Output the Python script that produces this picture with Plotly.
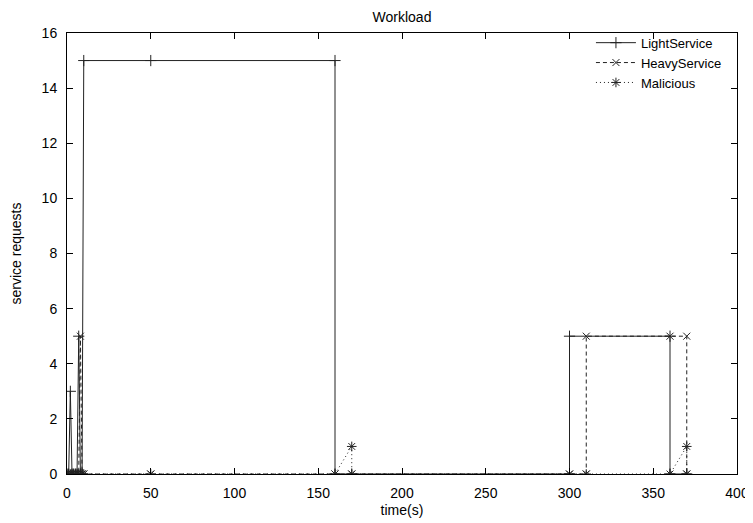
import plotly.graph_objects as go

# ---- data ----
light_t = [0, 1, 2, 3, 4, 5, 6, 7, 8, 9, 10, 50, 160, 160, 170, 300, 300, 360, 360, 370]
light_v = [0, 0, 3, 0, 0, 0, 0, 5, 0, 0, 15, 15, 15, 0, 0, 0, 5, 5, 0, 0]

heavy_t = [0, 1, 2, 3, 4, 5, 6, 7, 8, 9, 10, 50, 160, 170, 300, 310, 310, 360, 370, 370]
heavy_v = [0, 0, 0, 0, 0, 0, 0, 0, 5, 0, 0, 0, 0, 0, 0, 0, 5, 5, 5, 0]

mal_t = [0, 1, 2, 3, 4, 5, 6, 7, 8, 9, 10, 50, 160, 170, 170, 300, 310, 360, 370, 370]
mal_v = [0, 0, 0, 0, 0, 0, 0, 0, 0, 0, 0, 0, 0, 1, 0, 0, 0, 0, 1, 0]

x_ticks = [0, 50, 100, 150, 200, 250, 300, 350, 400]
y_ticks = [0, 2, 4, 6, 8, 10, 12, 14, 16]

FONT = "Liberation Sans, Arial, sans-serif"
W, H = 745, 515  # the page body has an 8px margin

fig = go.Figure()
fig.add_trace(go.Scatter(
    x=light_t, y=light_v, name="LightService", mode="lines+markers",
    line=dict(color="#222", width=1, dash="solid"),
    marker=dict(symbol="cross-thin", size=8, line=dict(color="#222", width=1)),
))
fig.add_trace(go.Scatter(
    x=heavy_t, y=heavy_v, name="HeavyService", mode="lines+markers",
    line=dict(color="#222", width=1, dash="4px,3px"),
    marker=dict(symbol="x-thin", size=7, line=dict(color="#222", width=1)),
))
fig.add_trace(go.Scatter(
    x=mal_t, y=mal_v, name="Malicious", mode="lines+markers",
    line=dict(color="#222", width=1, dash="1px,3px"),
    marker=dict(symbol="asterisk-open", size=8, line=dict(color="#222", width=1)),
))

axis_common = dict(
    showline=True, linecolor="black", linewidth=1, mirror="allticks",
    ticks="inside", ticklen=6, tickcolor="black", tickwidth=1,
    showgrid=False, zeroline=False,
    tickfont=dict(family=FONT, size=14, color="black"),
    ticklabelstandoff=6,
)

fig.update_layout(
    width=W, height=H,
    margin=dict(l=59, r=16, t=25, b=49),
    paper_bgcolor="white", plot_bgcolor="white",
    font=dict(family=FONT, size=14, color="black"),
    title=dict(text="Workload", x=0.5, xref="paper", y=1,
               yref="container", yanchor="top", pad=dict(t=4),
               font=dict(family=FONT, size=14, color="black")),
    xaxis=dict(range=[0, 400], tickvals=x_ticks,
               title=dict(text="time(s)", standoff=5,
                          font=dict(family=FONT, size=14)),
               automargin=False, **axis_common),
    yaxis=dict(range=[0, 16], tickvals=y_ticks,
               title=dict(text="service requests", standoff=24,
                          font=dict(family=FONT, size=14)),
               automargin=False, **axis_common),
    legend=dict(x=0.985, xanchor="right", y=1.012, yanchor="top",
                bgcolor="rgba(0,0,0,0)", borderwidth=0,
                font=dict(family=FONT, size=13, color="black"),
                itemwidth=40, tracegroupgap=0),
    showlegend=True,
)

fig.write_html("out.html")
